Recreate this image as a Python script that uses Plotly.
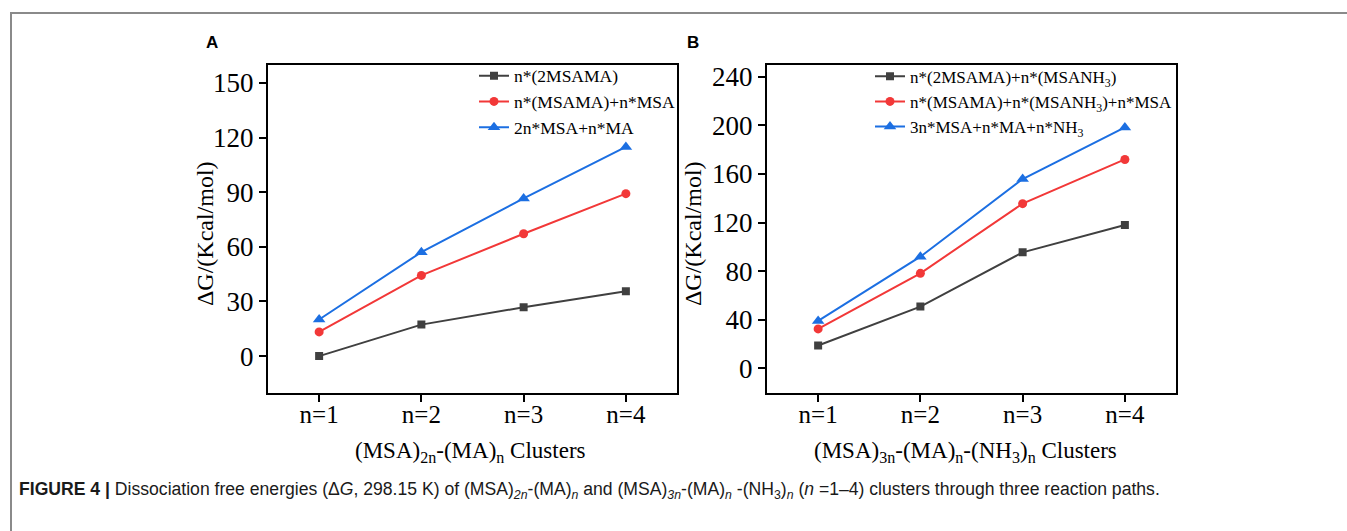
import plotly.graph_objects as go

# Cluster sizes on the category axis
n_labels = ["n=1", "n=2", "n=3", "n=4"]
n_values = [1, 2, 3, 4]

# Panel A: (MSA)2n-(MA)n, dissociation free energies (kcal/mol)
a_names = ["n*(2MSAMA)", "n*(MSAMA)+n*MSA", "2n*MSA+n*MA"]
a_path1 = [0.0, 17.3, 26.8, 35.6]
a_path2 = [13.3, 44.3, 67.2, 89.2]
a_path3 = [20.1, 57.1, 86.6, 114.9]

# Panel B: (MSA)3n-(MA)n-(NH3)n, dissociation free energies (kcal/mol)
b_names = ["n*(2MSAMA)+n*(MSANH<sub>3</sub>)",
           "n*(MSAMA)+n*(MSANH<sub>3</sub>)+n*MSA",
           "3n*MSA+n*MA+n*NH<sub>3</sub>"]
b_path1 = [18.7, 50.8, 95.5, 118.0]
b_path2 = [32.4, 78.2, 135.6, 172.0]
b_path3 = [39.0, 91.9, 155.9, 198.4]

a_ticks = [0, 30, 60, 90, 120, 150]
b_ticks = [0, 40, 80, 120, 160, 200, 240]

W, H = 1347, 531
colors = ["#404040", "#f23838", "#1c6fe2"]
symbols = ["square", "circle", "triangle-up"]
msizes = [8, 9, 11]
serif = "Liberation Serif, Times New Roman, serif"

fig = go.Figure()

for i, (name, ys) in enumerate(zip(a_names, [a_path1, a_path2, a_path3])):
    fig.add_trace(go.Scatter(
        x=n_values, y=ys, name=name, mode="lines+markers",
        line=dict(color=colors[i], width=2),
        marker=dict(symbol=symbols[i], size=msizes[i], color=colors[i]),
        xaxis="x", yaxis="y", legend="legend"))

for i, (name, ys) in enumerate(zip(b_names, [b_path1, b_path2, b_path3])):
    fig.add_trace(go.Scatter(
        x=n_values, y=ys, name=name, mode="lines+markers",
        line=dict(color=colors[i], width=2),
        marker=dict(symbol=symbols[i], size=msizes[i], color=colors[i]),
        xaxis="x2", yaxis="y2", legend="legend2"))


def px(x):
    return x / W


def py(y):
    return 1 - y / H


axis_common = dict(
    showline=True, linecolor="black", linewidth=2, mirror=True,
    ticks="outside", ticklen=7, tickwidth=1.5, tickcolor="black",
    showgrid=False, zeroline=False,
)
yfont = dict(family=serif, size=27, color="black")
xfont = dict(family=serif, size=25, color="black")

ydom = [py(392), py(63)]
fig.update_layout(
    width=W, height=H,
    margin=dict(l=0, r=0, t=0, b=0),
    paper_bgcolor="white", plot_bgcolor="white",
    xaxis=dict(domain=[px(268), px(677)], range=[0.5, 4.5],
               tickvals=n_values, ticktext=n_labels, ticklabelstandoff=-9,
               tickfont=xfont, anchor="y", **axis_common),
    yaxis=dict(domain=ydom, range=[-20, 160], tickvals=a_ticks,
               tickfont=yfont, anchor="x", **axis_common),
    xaxis2=dict(domain=[px(767), px(1176)], range=[0.5, 4.5],
                tickvals=n_values, ticktext=n_labels, ticklabelstandoff=-9,
                tickfont=xfont, anchor="y2", **axis_common),
    yaxis2=dict(domain=ydom, range=[-20, 250], tickvals=b_ticks,
                tickfont=yfont, anchor="x2", **axis_common),
    legend=dict(x=px(474), y=py(56), xanchor="left", yanchor="top",
                bgcolor="rgba(0,0,0,0)", borderwidth=0,
                font=dict(family=serif, size=17.5, color="black"),
                tracegroupgap=0, itemwidth=30),
    legend2=dict(x=px(870), y=py(57), xanchor="left", yanchor="top",
                 bgcolor="rgba(0,0,0,0)", borderwidth=0,
                 font=dict(family=serif, size=17, color="black"),
                 tracegroupgap=0, itemwidth=30),
    showlegend=True,
)

annotations = [
    # panel letters
    dict(x=px(212), y=py(41), text="<b>A</b>",
         font=dict(family="Liberation Sans, Arial, sans-serif", size=17, color="black")),
    dict(x=px(693), y=py(41), text="<b>B</b>",
         font=dict(family="Liberation Sans, Arial, sans-serif", size=17, color="black")),
    # axis titles
    dict(x=px(205), y=py(233), text="ΔG/(Kcal/mol)", textangle=-90,
         font=dict(family=serif, size=24, color="black")),
    dict(x=px(693), y=py(233), text="ΔG/(Kcal/mol)", textangle=-90,
         font=dict(family=serif, size=24, color="black")),
    dict(x=px(470), y=py(452), text="(MSA)<sub>2n</sub>-(MA)<sub>n</sub> Clusters",
         font=dict(family=serif, size=23, color="black")),
    dict(x=px(965), y=py(452),
         text="(MSA)<sub>3n</sub>-(MA)<sub>n</sub>-(NH<sub>3</sub>)<sub>n</sub> Clusters",
         font=dict(family=serif, size=23, color="black")),
    # figure caption
    dict(x=px(17), y=py(490), xanchor="left",
         text=("<b>FIGURE 4 |</b> Dissociation free energies (Δ<i>G</i>, 298.15 K) of "
               "(MSA)<sub><i>2n</i></sub>-(MA)<sub><i>n</i></sub> and "
               "(MSA)<sub><i>3n</i></sub>-(MA)<sub><i>n</i></sub> -(NH<sub>3</sub>)<sub><i>n</i></sub> "
               "(<i>n</i> =1–4) clusters through three reaction paths."),
         font=dict(family="Liberation Sans, Arial, sans-serif",
                   size=17.6, color="#1a1a1a")),
]
for a in annotations:
    a.setdefault("xanchor", "center")
    a.update(xref="paper", yref="paper", yanchor="middle", showarrow=False)
fig.update_layout(annotations=annotations)

# page frame: left and top rules
fig.add_shape(type="path", xref="paper", yref="paper",
              path=f"M {px(11)} 0 L {px(11)} {py(11)} L 1 {py(11)}",
              line=dict(color="#8a8a8a", width=2))

fig.write_html("out.html")
